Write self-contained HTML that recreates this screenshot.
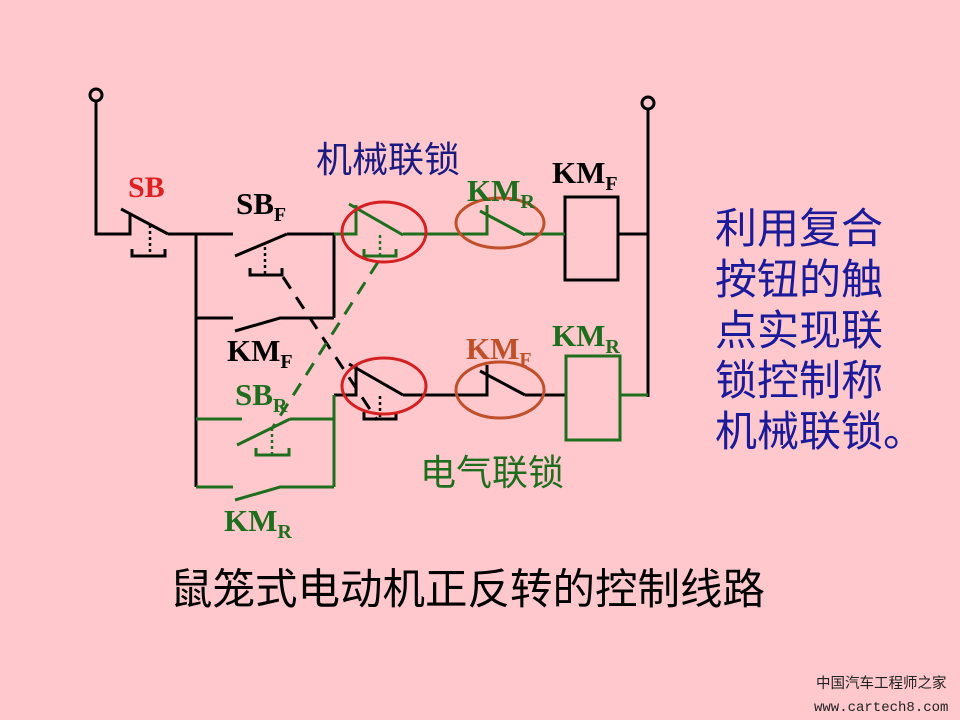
<!DOCTYPE html>
<html><head><meta charset="utf-8"><style>
body{margin:0;background:#FFC8CC;}
svg{display:block}
text{font-family:"Liberation Serif","Noto Serif CJK SC",serif;font-weight:bold}
.cj{font-family:"Liberation Sans","Noto Sans CJK SC",sans-serif;font-weight:normal}
</style></head><body>
<svg width="960" height="720" viewBox="0 0 960 720" xmlns="http://www.w3.org/2000/svg">
<rect width="960" height="720" fill="#FFC8CC"/>
<g fill="none" stroke-width="3">
<g stroke="#000">
<circle cx="96" cy="95" r="6"/>
<path d="M96 101V234H130V213M121 209L168 234M168 234H233M287 234H334V318M196 234V487M196 318H233M235 331L280 318H334"/>
<path d="M235 256L287 234"/>
<path d="M132 249V256H165V249M250 268V275H282V268"/>
<path d="M150 225V256M265 247V275" stroke-dasharray="3 3" stroke-width="2.5"/>
<path d="M283 277L377 420" stroke-dasharray="14 10"/>
<path d="M334 395H356V366M349 364L403 395M403 395H487V365M480 371L525 395M525 395H565"/>
<path d="M364 412V419H396V412"/>
<path d="M380 396V418" stroke-dasharray="3 3" stroke-width="2.5"/>
<rect x="565" y="197" width="53" height="83"/>
<path d="M618 234H648M648 110V397"/>
<circle cx="648" cy="103" r="6"/>
</g>
<g stroke="#1E6E1E">
<path d="M196 419H242M237 445L290 419M290 419H334M334 395V487M196 487H233M235 500L280 487H334"/>
<path d="M256 448V455H289V448"/>
<path d="M272 428V454" stroke-dasharray="3 3" stroke-width="2.5"/>
<path d="M334 234H356V205M349 204L403 235M403 234H487V205M480 211L525 235M525 234H565"/>
<path d="M364 249V256H396V249"/>
<path d="M380 235V256" stroke-dasharray="3 3" stroke-width="2.5"/>
<path d="M378 262L273 427" stroke-dasharray="14 10"/>
<rect x="566" y="356" width="54" height="84"/>
<path d="M620 395H648"/>
</g>
<ellipse cx="384" cy="232" rx="42" ry="30" stroke="#D42020"/>
<ellipse cx="500" cy="223" rx="44" ry="25" stroke="#C0502A"/>
<ellipse cx="384" cy="386" rx="42" ry="28" stroke="#D42020"/>
<ellipse cx="500" cy="390" rx="44" ry="28" stroke="#C0502A"/>
</g>
<text x="128" y="197" font-size="30" fill="#E02020">SB</text>
<text x="236" y="214" font-size="31" fill="#000">SB<tspan font-size="20" dy="7">F</tspan></text>
<text x="227" y="361" font-size="31" fill="#000">KM<tspan font-size="20" dy="7">F</tspan></text>
<text x="235" y="405" font-size="31" fill="#1E6E1E">SB<tspan font-size="20" dy="7">R</tspan></text>
<text x="224" y="531" font-size="31" fill="#1E6E1E">KM<tspan font-size="20" dy="7">R</tspan></text>
<text x="467" y="201" font-size="31" fill="#1E6E1E">KM<tspan font-size="20" dy="7">R</tspan></text>
<text x="552" y="183" font-size="31" fill="#000">KM<tspan font-size="20" dy="7">F</tspan></text>
<text x="466" y="359" font-size="31" fill="#C0502A">KM<tspan font-size="20" dy="7">F</tspan></text>
<text x="552" y="346" font-size="31" fill="#1E6E1E">KM<tspan font-size="20" dy="7">R</tspan></text>
<text class="cj" x="316" y="172" font-size="36" fill="#1A1A80">机械联锁</text>
<text class="cj" x="420" y="485" font-size="36" fill="#1E6E1E">电气联锁</text>
<g class="cj" font-size="42" fill="#1A1A9A">
<text class="cj" x="715" y="243">利用复合</text>
<text class="cj" x="715" y="294">按钮的触</text>
<text class="cj" x="715" y="345">点实现联</text>
<text class="cj" x="715" y="395">锁控制称</text>
<text class="cj" x="715" y="446">机械联锁。</text>
</g>
<text class="cj" x="170" y="604" font-size="42.5" fill="#000">鼠笼式电动机正反转的控制线路</text>
<text class="cj" x="816" y="688" font-size="14.5" fill="#222">中国汽车工程师之家</text>
<text x="814" y="711" font-size="14" fill="#222" style="font-family:'Liberation Mono',monospace;font-weight:normal">www.cartech8.com</text>
</svg>
</body></html>
